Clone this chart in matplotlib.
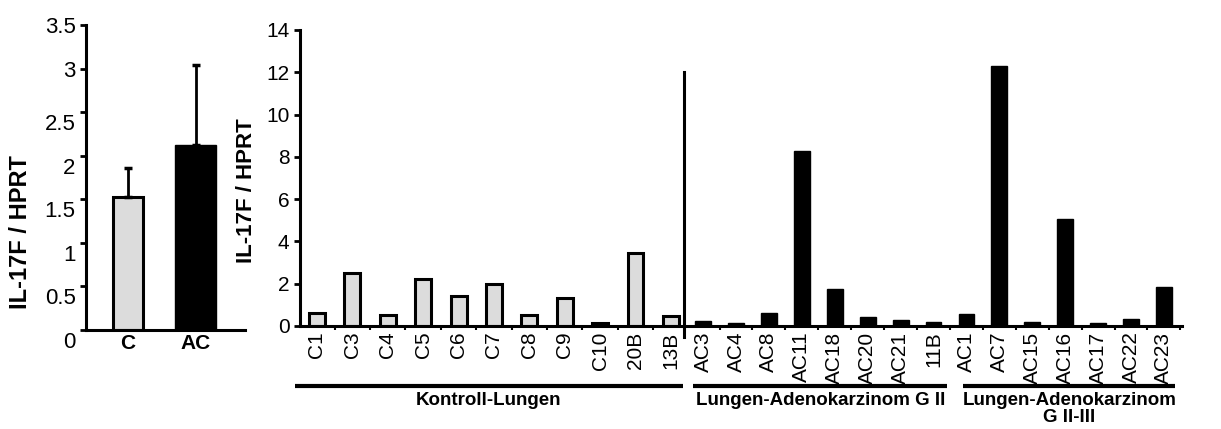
import matplotlib
matplotlib.use('Agg')
import matplotlib.pyplot as plt
import matplotlib.transforms as mtransforms
import numpy as np

plt.rcParams['font.family'] = ['Liberation Sans', 'DejaVu Sans']

# summary panel (mean + SD)
summary_groups = ['C', 'AC']
summary_means = [1.53, 2.12]
summary_sd = [0.33, 0.92]
summary_ticks = [0, 0.5, 1, 1.5, 2, 2.5, 3, 3.5]
summary_tick_labels = ['0', '0.5', '1', '1.5', '2', '2.5', '3', '3.5']

# single samples
control_samples = ['C1', 'C3', 'C4', 'C5', 'C6', 'C7', 'C8', 'C9', 'C10', '20B', '13B']
control_values = [0.6, 2.5, 0.52, 2.2, 1.4, 2.0, 0.5, 1.33, 0.15, 3.45, 0.45]
ac_samples = ['AC3', 'AC4', 'AC8', 'AC11', 'AC18', 'AC20', 'AC21', '11B',
              'AC1', 'AC7', 'AC15', 'AC16', 'AC17', 'AC22', 'AC23']
ac_values = [0.25, 0.13, 0.6, 8.3, 1.77, 0.41, 0.28, 0.19,
             0.55, 12.3, 0.19, 5.05, 0.12, 0.35, 1.83]
sample_ticks = [0, 2, 4, 6, 8, 10, 12, 14]

# group bars below the sample axis: (label, first index, last index)
control_group = ('Kontroll-Lungen', 0, 10)
ac_groups = [('Lungen-Adenokarzinom G II', 0, 7),
             ('Lungen-Adenokarzinom\nG II-III', 8, 14)]

LW = 2.2
GREY = '#dcdcdc'

fig = plt.figure(figsize=(12.21, 4.29), dpi=100)


def style_axes(ax):
    for side in ['top', 'right']:
        ax.spines[side].set_visible(False)
    for side in ['left', 'bottom']:
        ax.spines[side].set_linewidth(LW)
    ax.tick_params(axis='y', direction='out', length=4, width=2)


# ---- left summary panel ----
ax0 = fig.add_axes([0.0704, 0.2308, 0.1302, 0.7109])
style_axes(ax0)
x0 = np.arange(len(summary_groups))
ax0.bar(x0[0], summary_means[0], width=0.44, color=GREY, edgecolor='black', linewidth=LW)
ax0.bar(x0[1], summary_means[1], width=0.61, color='black', edgecolor='black', linewidth=1)
ax0.errorbar(x0, summary_means, yerr=[np.zeros(2), summary_sd], fmt='none',
             ecolor='black', elinewidth=2, capsize=3, capthick=2.5)
ax0.set_xlim(-0.62, 1.73)
ax0.set_ylim(0, 3.5)
ax0.set_yticks(summary_ticks)
ax0.set_yticklabels(summary_tick_labels, fontsize=16)
offset = mtransforms.ScaledTranslation(0, -10 / 100, fig.dpi_scale_trans)
for lab in ax0.get_yticklabels()[:-2]:
    lab.set_transform(lab.get_transform() + offset)
ax0.set_xticks(x0)
ax0.set_xticklabels(summary_groups, fontsize=15, fontweight='bold')
ax0.tick_params(axis='x', length=0, pad=3)
ax0.set_ylabel('IL-17F / HPRT', fontsize=17, fontweight='bold')
ax0.yaxis.set_label_coords(-0.34, 0.32)

# ---- control samples ----
ax1 = fig.add_axes([0.2457, 0.2401, 0.3145, 0.6900])
style_axes(ax1)
x1 = np.arange(len(control_samples))
ax1.bar(x1, control_values, width=0.45, color=GREY, edgecolor='black', linewidth=LW)
ax1.set_xlim(-0.48, 10.37)
ax1.set_ylim(0, 14)
ax1.set_yticks(sample_ticks)
ax1.set_yticklabels([str(t) for t in sample_ticks], fontsize=15)
ax1.set_xticks(x1)
ax1.set_xticklabels(control_samples, rotation=90, fontsize=15)
ax1.set_xticks(x1[:-1] + 0.5, minor=True)
ax1.tick_params(axis='x', which='major', length=0, pad=4)
ax1.tick_params(axis='x', which='minor', length=3, width=1.5)
ax1.set_ylabel('IL-17F / HPRT', fontsize=16, fontweight='bold')
ax1.yaxis.set_label_coords(-0.112, 0.456)

# ---- adenocarcinoma samples ----
ax2 = fig.add_axes([0.5602, 0.2401, 0.4079, 0.6900])
style_axes(ax2)
x2 = np.arange(len(ac_samples))
ax2.bar(x2, ac_values, width=0.48, color='black', edgecolor='black', linewidth=1)
ax2.set_xlim(-0.58, 14.55)
ax2.set_ylim(0, 14)
ax2.set_yticks([])
ax2.spines['left'].set_bounds(-0.52, 12)
ax2.set_xticks(x2)
ax2.set_xticklabels(ac_samples, rotation=90, fontsize=15)
ax2.set_xticks(np.append(x2[:-1] + 0.5, x2[-1] + 0.5), minor=True)
ax2.tick_params(axis='x', which='major', length=0, pad=4)
ax2.tick_params(axis='x', which='minor', length=3, width=1.5)


def group_bar(ax, label, first, last, pad_left, pad_right, line_y=-0.203, text_y=-0.222):
    trans = mtransforms.blended_transform_factory(ax.transData, ax.transAxes)
    ax.plot([first - pad_left, last + pad_right], [line_y, line_y], color='black',
            lw=3, transform=trans, clip_on=False, solid_capstyle='butt')
    ax.text((first + last) / 2 + (pad_right - pad_left) / 2, text_y, label, transform=trans,
            ha='center', va='top', fontsize=13.5, fontweight='bold',
            multialignment='center', linespacing=1.05)


group_bar(ax1, *control_group, 0.62, 0.34)
group_bar(ax2, *ac_groups[0], 0.30, 0.42)
group_bar(ax2, *ac_groups[1], 0.10, 0.35)

fig.savefig('out.png', dpi=100)
